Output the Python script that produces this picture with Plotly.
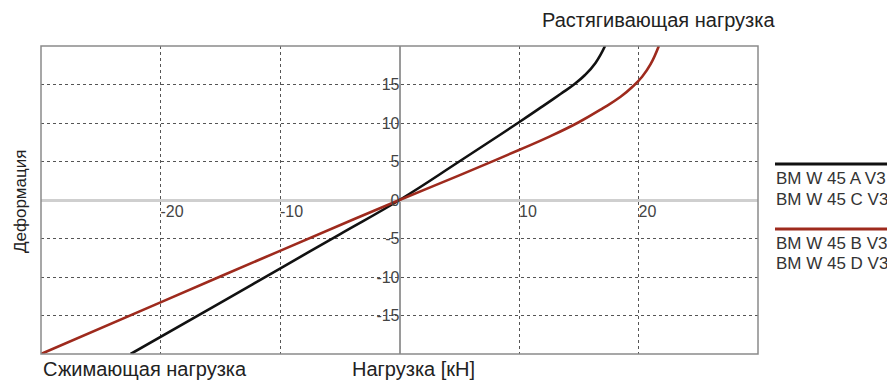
import plotly.graph_objects as go

# Data
load_ac = [-22.5, -15, -10, -5, 0, 5, 10, 12, 13.5, 14.6, 15.5, 16.4, 17.2]
def_ac = [-20, -13.35, -8.9, -4.45, 0, 5, 10.1, 12.2, 13.8, 15.0, 16.2, 17.8, 20]
load_bd = [-30, -20, -10, 0, 5, 10, 12.5, 15, 17, 18.5, 19.5, 20.3, 21, 21.7]
def_bd = [-20, -13.3, -6.6, 0, 3.2, 6.5, 8.2, 10.1, 11.9, 13.4, 14.7, 16.0, 17.6, 20]

x_ticks = [-20, -10, 10, 20]
y_ticks = [-15, -10, -5, 0, 5, 10, 15]
legend_ac = ["BM W 45 A V3", "BM W 45 C V3"]
legend_bd = ["BM W 45 B V3", "BM W 45 D V3"]

BLACK = "#111111"
RED = "#9e2a1d"
FONT = "Arial, Liberation Sans, sans-serif"

fig = go.Figure()
fig.add_trace(go.Scatter(x=load_ac, y=def_ac, mode="lines",
                         line=dict(color=BLACK, width=2.6, shape="spline", smoothing=1.3),
                         showlegend=False, hoverinfo="skip"))
fig.add_trace(go.Scatter(x=load_bd, y=def_bd, mode="lines",
                         line=dict(color=RED, width=2.6, shape="spline", smoothing=1.3),
                         showlegend=False, hoverinfo="skip"))

# page body has an 8px margin: compensate so the plot lands where the reference has it
OFF = 8
L, R, T, B = 41 - OFF, 137, 46 - OFF, 28
W, H = 895 - OFF, 382 - OFF
pw, ph = W - L - R, H - T - B

def px(xp):
    return (xp - OFF - L) / pw

def py(yp):
    return (H - B - (yp - OFF)) / ph

fig.update_layout(
    width=W, height=H,
    margin=dict(l=L, r=R, t=T, b=B),
    paper_bgcolor="white", plot_bgcolor="white",
    font=dict(family=FONT, size=16, color="#444444"),
    xaxis=dict(range=[-30, 30], tickvals=x_ticks, ticktext=[str(v) for v in x_ticks],
               showgrid=True, gridcolor="#555555", griddash="dot", gridwidth=1,
               zeroline=True, zerolinecolor="#9a9a9a", zerolinewidth=2,
               showline=False, ticks="", anchor="free", position=0.5,
               ticklabelposition="outside right",
               tickfont=dict(family=FONT, size=16, color="#444444")),
    yaxis=dict(range=[-20, 20], tickvals=y_ticks, ticktext=[str(v) for v in y_ticks],
               showgrid=True, gridcolor="#555555", griddash="dot", gridwidth=1,
               zeroline=True, zerolinecolor="#cfcfcf", zerolinewidth=3,
               showline=False, ticks="", anchor="free", position=0.5,
               tickfont=dict(family=FONT, size=16, color="#444444")),
)

# plot frame
fig.add_shape(type="rect", xref="paper", yref="paper", x0=0, x1=1, y0=0, y1=1,
              line=dict(color="#8a8a8a", width=1.5), layer="above")

# custom legend
fig.add_shape(type="line", xref="paper", yref="paper", x0=px(775), x1=px(888),
              y0=py(164), y1=py(164), line=dict(color=BLACK, width=3))
fig.add_shape(type="line", xref="paper", yref="paper", x0=px(775), x1=px(888),
              y0=py(229), y1=py(229), line=dict(color=RED, width=3))

def ann(text, xp, yp, size=15, color="#222222", **kw):
    fig.add_annotation(text=text, xref="paper", yref="paper", x=px(xp), y=py(yp),
                       xanchor=kw.pop("xanchor", "left"), yanchor="middle",
                       showarrow=False, font=dict(family=FONT, size=size, color=color), **kw)

for t, yp in zip(legend_ac, [179, 199]):
    ann(t, 774, yp, size=17, color="#333333")
for t, yp in zip(legend_bd, [244, 263]):
    ann(t, 774, yp, size=17, color="#333333")

ann("Растягивающая нагрузка", 540, 20, size=20)
ann("Сжимающая нагрузка", 41, 369, size=20)
ann("Нагрузка [кН]", 350, 369, size=20)
ann("Деформация", 20, 202, size=17, xanchor="center", textangle=-90)

fig.write_html("out.html")
